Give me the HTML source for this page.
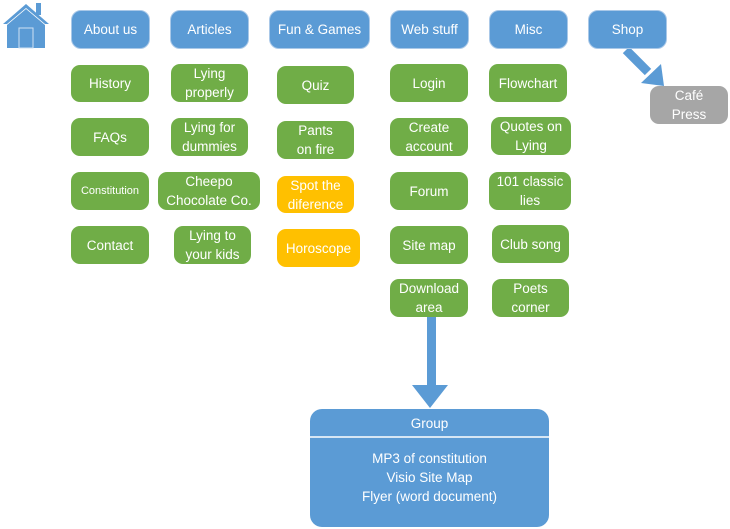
<!DOCTYPE html>
<html><head><meta charset="utf-8"><style>
body{margin:0;width:730px;height:529px;background:#fff;position:relative;overflow:hidden;font-family:"Liberation Sans",sans-serif;}
.b{position:absolute;display:flex;align-items:center;justify-content:center;text-align:center;color:#fff;font-size:13.5px;line-height:19px;border-radius:9px;box-sizing:border-box;}
.h{background:#5b9bd5;border:1.5px solid #a9c8e8;border-radius:10px;}
.g{background:#70ad47;}
.o{background:#ffc000;}
.gr{background:#a6a6a6;}
</style></head><body>
<svg style="position:absolute;left:0;top:0" width="730" height="529">
 <polygon points="26,4 3,24 7,24 26,8 45,24 49,24" fill="#5b9bd5"/>
 <rect x="36" y="3" width="5" height="12" fill="#5b9bd5"/>
 <polygon points="26,9 7,25 7,48 45,48 45,25" fill="#5b9bd5"/>
 <rect x="19" y="28" width="14" height="20" fill="none" stroke="#cfe0f2" stroke-width="1"/>
 <line x1="626" y1="50" x2="648" y2="72" stroke="#5b9bd5" stroke-width="9"/>
 <polygon points="661,64 664,86 641,83" fill="#5b9bd5"/>
 <rect x="427" y="317" width="9" height="70" fill="#5b9bd5"/>
 <polygon points="412,385 448,385 430,408" fill="#5b9bd5"/>
 <rect x="310" y="409" width="239" height="118" rx="12" fill="#5b9bd5"/>
 <line x1="310" y1="437" x2="549" y2="437" stroke="#fff" stroke-width="1.5"/>
</svg>
<div class="b h" style="left:71px;top:10px;width:79px;height:39px">About us</div>
<div class="b h" style="left:170px;top:10px;width:79px;height:39px">Articles</div>
<div class="b h" style="left:269px;top:10px;width:101px;height:39px">Fun &amp; Games</div>
<div class="b h" style="left:390px;top:10px;width:79px;height:39px">Web stuff</div>
<div class="b h" style="left:489px;top:10px;width:79px;height:39px">Misc</div>
<div class="b h" style="left:588px;top:10px;width:79px;height:39px">Shop</div>

<div class="b g" style="left:71px;top:65px;width:78px;height:37px">History</div>
<div class="b g" style="left:71px;top:118px;width:78px;height:38px">FAQs</div>
<div class="b g" style="left:71px;top:172px;width:78px;height:38px;font-size:11px">Constitution</div>
<div class="b g" style="left:71px;top:226px;width:78px;height:38px">Contact</div>

<div class="b g" style="left:171px;top:64px;width:77px;height:38px">Lying<br>properly</div>
<div class="b g" style="left:171px;top:118px;width:77px;height:38px">Lying for<br>dummies</div>
<div class="b g" style="left:158px;top:172px;width:102px;height:38px">Cheepo<br>Chocolate Co.</div>
<div class="b g" style="left:174px;top:226px;width:77px;height:38px">Lying to<br>your kids</div>

<div class="b g" style="left:277px;top:66px;width:77px;height:38px">Quiz</div>
<div class="b g" style="left:277px;top:121px;width:77px;height:38px">Pants<br>on fire</div>
<div class="b o" style="left:277px;top:176px;width:77px;height:37px">Spot the<br>diference</div>
<div class="b o" style="left:277px;top:229px;width:83px;height:38px">Horoscope</div>

<div class="b g" style="left:390px;top:64px;width:78px;height:38px">Login</div>
<div class="b g" style="left:390px;top:118px;width:78px;height:38px">Create<br>account</div>
<div class="b g" style="left:390px;top:172px;width:78px;height:38px">Forum</div>
<div class="b g" style="left:390px;top:226px;width:78px;height:38px">Site map</div>
<div class="b g" style="left:390px;top:279px;width:78px;height:38px">Download<br>area</div>

<div class="b g" style="left:489px;top:64px;width:78px;height:38px">Flowchart</div>
<div class="b g" style="left:491px;top:117px;width:80px;height:38px">Quotes on<br>Lying</div>
<div class="b g" style="left:489px;top:172px;width:82px;height:38px">101 classic<br>lies</div>
<div class="b g" style="left:492px;top:225px;width:77px;height:38px">Club song</div>
<div class="b g" style="left:492px;top:279px;width:77px;height:38px">Poets<br>corner</div>

<div class="b gr" style="left:650px;top:86px;width:78px;height:38px">Café<br>Press</div>

<div class="b" style="left:310px;top:409px;width:239px;height:28px">Group</div>
<div class="b" style="left:310px;top:448px;width:239px;height:58px;line-height:19px">MP3 of constitution<br>Visio Site Map<br>Flyer (word document)</div>
</body></html>
